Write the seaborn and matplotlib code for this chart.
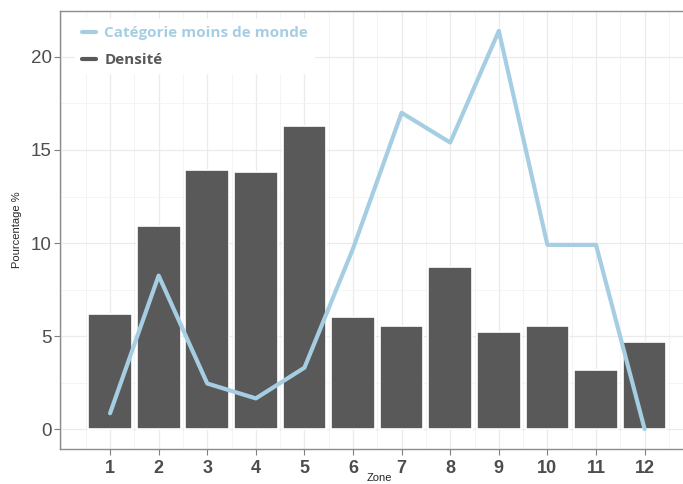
import matplotlib
matplotlib.use("Agg")
import matplotlib.pyplot as plt
from matplotlib.ticker import MultipleLocator
from matplotlib.lines import Line2D
import seaborn as sns
import pandas as pd

zones = [1, 2, 3, 4, 5, 6, 7, 8, 9, 10, 11, 12]
densite = [6.2, 10.9, 13.9, 13.8, 16.3, 6.05, 5.55, 8.7, 5.2, 5.55, 3.2, 4.7]
categorie = [0.85, 8.25, 2.45, 1.65, 3.3, 9.7, 17.0, 15.4, 21.4, 9.9, 9.9, 0.0]

bar_color = "#595959"
line_color = "#a6cee3"

df = pd.DataFrame({"Zone": zones, "Densite": densite, "Categorie": categorie})

sns.set_style("white")
fig = plt.figure(figsize=(6.83, 4.84), dpi=100)
ax = fig.add_axes([60 / 683, 35 / 484, 623 / 683, 438 / 484])

sns.barplot(data=df, x="Zone", y="Densite", native_scale=True, width=0.9,
            color=bar_color, saturation=1, edgecolor="white", linewidth=1.2,
            ax=ax, zorder=2)
sns.lineplot(data=df, x="Zone", y="Categorie", color=line_color, linewidth=3,
             ax=ax, zorder=3)

ax.set_xlim(-0.03, 12.79)
ax.set_ylim(-1.07, 22.47)
ax.xaxis.set_major_locator(MultipleLocator(1))
ax.xaxis.set_minor_locator(MultipleLocator(0.5))
ax.yaxis.set_major_locator(MultipleLocator(5))
ax.yaxis.set_minor_locator(MultipleLocator(2.5))
ax.set_xticks(zones)
ax.set_xticklabels([str(z) for z in zones], fontsize=13, fontweight="bold",
                   color="#4d4d4d", family="Liberation Sans")
for lbl in ax.get_yticklabels():
    lbl.set_fontsize(13.5)
    lbl.set_color("#4d4d4d")
    lbl.set_family("Liberation Sans")
ax.grid(True, which="major", color="#ebebeb", linewidth=0.9, zorder=0)
ax.grid(True, which="minor", color="#f2f2f2", linewidth=0.6, zorder=0)
ax.set_axisbelow(True)
ax.tick_params(axis="both", which="major", length=4, color="#7f7f7f",
               left=True, bottom=True, width=0.8)
ax.tick_params(axis="x", pad=4)
ax.tick_params(axis="y", pad=2)
ax.tick_params(which="minor", length=0)

for side in ["left", "bottom", "top"]:
    ax.spines[side].set_color("#8c8c8c")
    ax.spines[side].set_linewidth(1.0)
ax.spines["right"].set_visible(False)

ax.set_xlabel("")
ax.set_ylabel("Pourcentage %", fontsize=8, family="Liberation Sans", labelpad=6)
# axis title for the zones, sitting just under the tick labels
fig.text(379 / 683, 1 / 484, "Zone", fontsize=8, family="Liberation Sans",
         ha="center", va="bottom")

handles = [Line2D([0], [0], color=line_color, linewidth=3),
           Line2D([0], [0], color=bar_color, linewidth=3)]
leg = ax.legend(handles, ["Catégorie moins de monde", "Densité"],
                loc="upper left", bbox_to_anchor=(0.015, 0.995), frameon=True,
                facecolor="white", edgecolor="none", framealpha=1,
                handlelength=0.9, handletextpad=0.55, labelspacing=0.85,
                borderaxespad=0.4, borderpad=0.45,
                prop={"family": "Open Sans", "weight": "bold", "size": 11})
for txt, col in zip(leg.get_texts(), [line_color, bar_color]):
    txt.set_color(col)
leg.set_zorder(5)

fig.savefig("out.png", dpi=100)
